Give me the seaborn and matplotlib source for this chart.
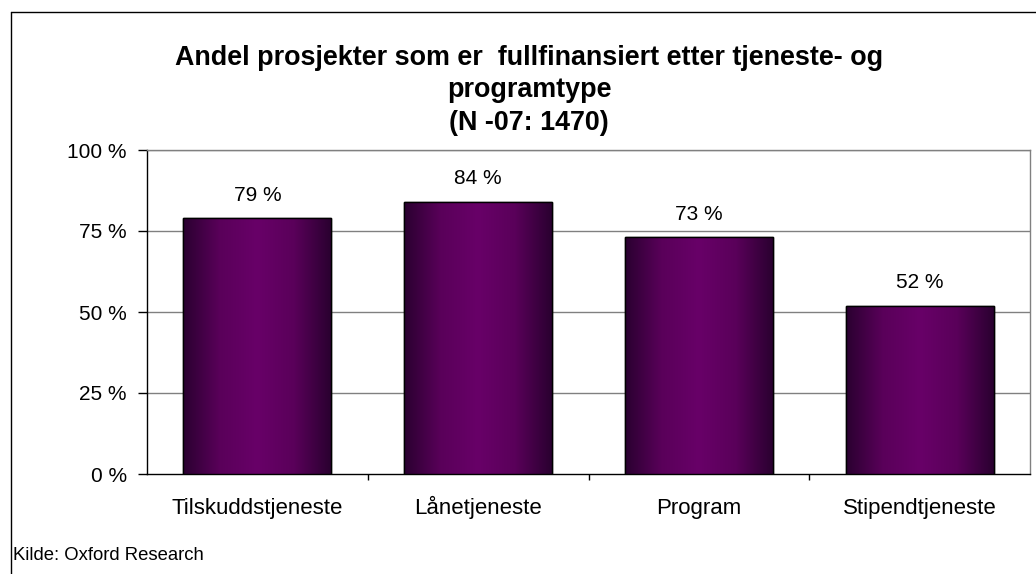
import numpy as np
import pandas as pd
import matplotlib
matplotlib.use("Agg")
import matplotlib.pyplot as plt
import seaborn as sns
from matplotlib.colors import LinearSegmentedColormap
from matplotlib.lines import Line2D

categories = ["Tilskuddstjeneste", "Lånetjeneste", "Program", "Stipendtjeneste"]
values = [79, 84, 73, 52]
value_labels = ["79 %", "84 %", "73 %", "52 %"]
yticks = [0, 25, 50, 75, 100]
ytick_labels = ["0 %", "25 %", "50 %", "75 %", "100 %"]
title = "Andel prosjekter som er  fullfinansiert etter tjeneste- og\nprogramtype\n(N -07: 1470)"
source = "Kilde: Oxford Research"

sns.set_theme(style="white")
plt.rcParams['font.family'] = ['Liberation Sans', 'DejaVu Sans']
plt.rcParams['text.color'] = 'black'
plt.rcParams['xtick.color'] = 'black'
plt.rcParams['ytick.color'] = 'black'
plt.rcParams['xtick.labelcolor'] = 'black'
plt.rcParams['ytick.labelcolor'] = 'black'

W, H = 1036, 574
fig = plt.figure(figsize=(W / 100, H / 100), dpi=100)
ax = fig.add_axes([147 / W, 1 - 474 / H, (1030 - 147) / W, (474 - 150) / H])

df = pd.DataFrame({"cat": categories, "val": values})
sns.barplot(data=df, x="cat", y="val", ax=ax, width=0.67, color="#660066",
            edgecolor="black", linewidth=1.0, zorder=3)

ax.set_ylim(0, 100)
ax.set_xlim(-0.5, len(categories) - 0.5)
ax.set_yticks(yticks)
ax.set_yticklabels(ytick_labels, fontsize=15, color="black")
ax.set_xticks(range(len(categories)))
ax.set_xticklabels(categories, fontsize=16, color="black")
for lbl in ax.get_xticklabels():
    lbl.set_verticalalignment("baseline")
ax.tick_params(axis="x", which="major", length=0, pad=29)
ax.set_xticks([i + 0.5 for i in range(len(categories) - 1)], minor=True)
ax.tick_params(axis="x", which="minor", bottom=True, length=4, width=1, color="black", direction="out")
ax.tick_params(axis="y", left=True, length=6.5, width=1, color="black", pad=8, direction="out")
ax.set_xlabel("")
ax.set_ylabel("")
for y in yticks[1:]:
    ax.axhline(y, color="#808080", linewidth=1, zorder=1)
for s in ["top", "right"]:
    ax.spines[s].set_color("#808080")
    ax.spines[s].set_linewidth(1)
for s in ["left", "bottom"]:
    ax.spines[s].set_color("black")
    ax.spines[s].set_linewidth(1)

# horizontal gradient on bars
cmap = LinearSegmentedColormap.from_list("g", ["#2a0030", "#5a005a", "#680068", "#5a005a", "#2a0030"])
grad = np.linspace(0, 1, 256).reshape(1, -1)
for p, lab in zip(ax.patches, value_labels):
    x0, w, h = p.get_x(), p.get_width(), p.get_height()
    im = ax.imshow(grad, extent=[x0, x0 + w, 0, h], aspect="auto", cmap=cmap, zorder=3.5)
    im.set_clip_path(p)
    ax.add_patch(plt.Rectangle((x0, 0), w, h, fill=False, edgecolor="black", linewidth=1.0, zorder=4))
    ax.annotate(lab, (x0 + w / 2, h), xytext=(0, 16.5), textcoords="offset points",
                ha="center", va="center", fontsize=15, color="black")
ax.set_ylim(0, 100)
ax.set_xlim(-0.5, len(categories) - 0.5)

fig.text(529 / W, 1 - 45 / H, title, ha="center", va="top", color="black",
         fontsize=19.4, fontweight="bold", linespacing=1.32)
fig.text(13 / W, 1 - 555 / H, source, ha="left", va="center", fontsize=13.3, color="black")

# outer chart frame (left and top visible)
fig.add_artist(Line2D([10.5 / W, 10.5 / W], [0, 1 - 12 / H], color="black", linewidth=1, transform=fig.transFigure))
fig.add_artist(Line2D([10.5 / W, 1], [1 - 12 / H, 1 - 12 / H], color="black", linewidth=1, transform=fig.transFigure))

fig.savefig("out.png", dpi=100)
